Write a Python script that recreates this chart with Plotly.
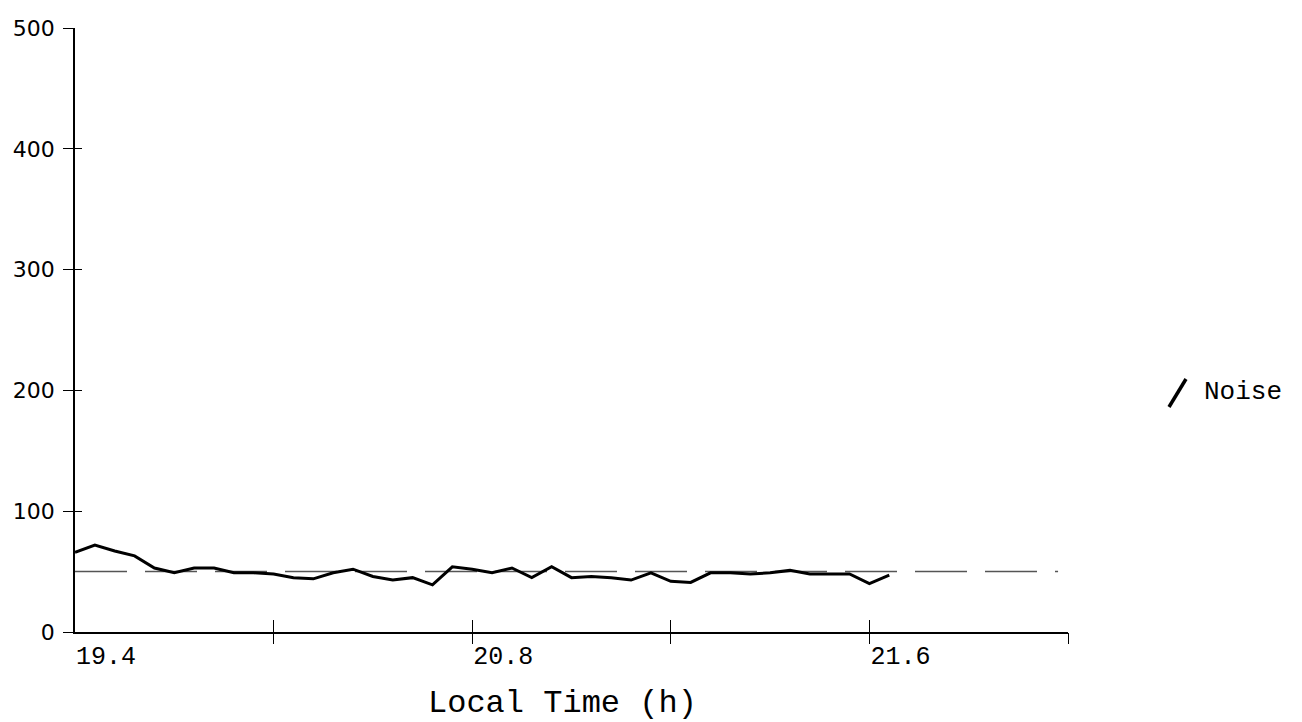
import plotly.graph_objects as go

# Sample positions along the time axis (in major-tick units) and measured noise values
sample_pos = [0.0, 0.1, 0.2, 0.3, 0.4, 0.5, 0.6, 0.7, 0.8, 0.9,
              1.0, 1.1, 1.2, 1.3, 1.4, 1.5, 1.6, 1.7, 1.8, 1.9,
              2.0, 2.1, 2.2, 2.3, 2.4, 2.5, 2.6, 2.7, 2.8, 2.9,
              3.0, 3.1, 3.2, 3.3, 3.4, 3.5, 3.6, 3.7, 3.8, 3.9,
              4.0, 4.1]
noise = [66, 72, 67, 63, 53, 49, 53, 53, 49, 49,
         48, 45, 44, 49, 52, 46, 43, 45, 39, 54,
         52, 49, 53, 45, 54, 45, 46, 45, 43, 49,
         42, 41, 49, 49, 48, 49, 51, 48, 48, 48,
         40, 47]

# Reference noise level drawn as a dashed line
noise_level = 50
level_span = [0.0, 4.95]

tick_pos = [0, 1, 2, 3, 4, 5]
tick_text = ["19.4", "", "20.8", "", "21.6", ""]
y_ticks = [0, 100, 200, 300, 400, 500]

MONO = "Liberation Mono, Courier New, monospace"
SANS = "DejaVu Sans, Arial, sans-serif"

# plot-area geometry in pixels
L, R, T, B = 75, 1068, 28, 632
W, H = R - L, B - T


def px(x):
    return (x - L) / W


def py(y):
    return (B - y) / H


fig = go.Figure()

fig.add_trace(go.Scatter(
    x=level_span, y=[noise_level, noise_level], mode="lines",
    line=dict(color="#555555", width=1.5, dash="52px,18px"),
    showlegend=False, hoverinfo="skip"))

fig.add_trace(go.Scatter(
    x=sample_pos, y=noise, mode="lines",
    line=dict(color="black", width=3),
    name="Noise", showlegend=False))

# invisible trace on the secondary axes that carry the other half of the crossing ticks
fig.add_trace(go.Scatter(x=[0], y=[0], xaxis="x2", yaxis="y2", mode="markers",
                         marker=dict(opacity=0), showlegend=False, hoverinfo="skip"))

fig.update_layout(
    width=1302, height=722,
    margin=dict(l=L, r=1302 - R, t=T, b=722 - B),
    plot_bgcolor="white", paper_bgcolor="white",
    font=dict(family=MONO, size=20, color="black"),
    xaxis=dict(range=[0, 5], tickvals=tick_pos, ticktext=tick_text,
               showgrid=False, zeroline=False, showline=True,
               linecolor="black", linewidth=1.5,
               ticks="inside", ticklen=12, tickwidth=1.2, tickcolor="black",
               ticklabelshift=31,
               tickfont=dict(family=MONO, size=25)),
    xaxis2=dict(range=[0, 5], overlaying="x", anchor="y", side="bottom",
                tickvals=tick_pos[1:], ticks="outside", ticklen=11,
                tickwidth=1.2, tickcolor="black", showticklabels=False,
                showgrid=False, zeroline=False, showline=False),
    yaxis=dict(range=[0, 500], tickvals=y_ticks,
               showgrid=False, zeroline=False, showline=True,
               linecolor="black", linewidth=1.5,
               ticks="outside", ticklen=10, tickwidth=1.2, tickcolor="black",
               ticklabelstandoff=4,
               tickfont=dict(family=SANS, size=22)),
    yaxis2=dict(range=[0, 500], overlaying="y", anchor="x", side="left",
                tickvals=y_ticks[1:], ticks="inside", ticklen=7,
                tickwidth=1.2, tickcolor="black", showticklabels=False,
                showgrid=False, zeroline=False, showline=False),
    annotations=[
        dict(text="Local Time (h)", xref="paper", yref="paper",
             x=px(562), y=py(703),
             xanchor="center", yanchor="middle", showarrow=False,
             font=dict(family=MONO, size=32)),
        dict(text="Noise", xref="paper", yref="paper",
             x=px(1202), y=py(392),
             xanchor="left", yanchor="middle", showarrow=False,
             font=dict(family=MONO, size=26)),
    ],
    shapes=[
        dict(type="line", xref="paper", yref="paper",
             x0=px(1169), y0=py(407), x1=px(1186), y1=py(379),
             line=dict(color="black", width=3.5)),
    ],
)

fig.write_html("out.html")
